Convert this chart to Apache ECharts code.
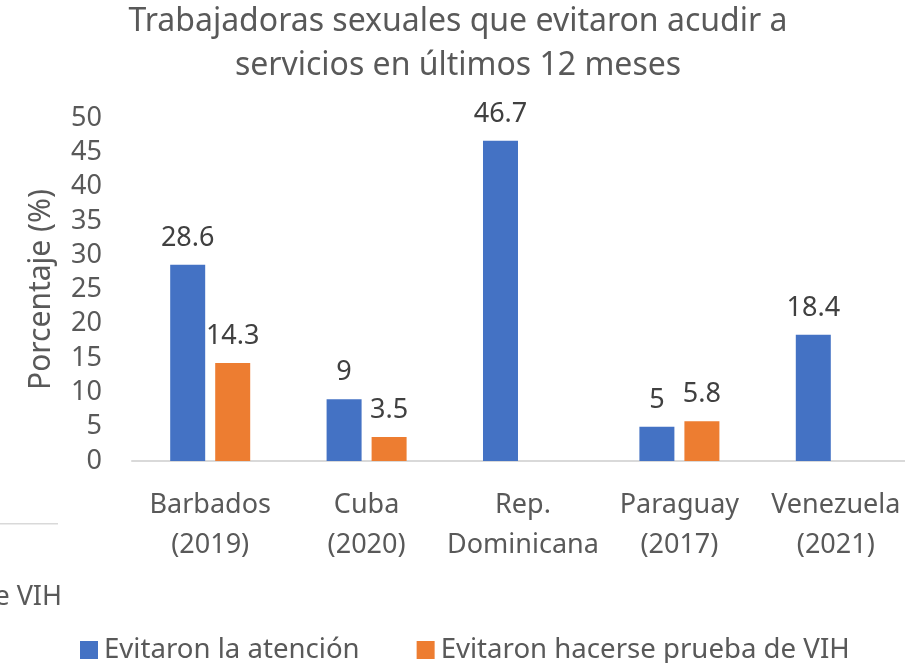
<!DOCTYPE html>
<html>
<head>
<meta charset="utf-8">
<script src="https://cdn.jsdelivr.net/npm/echarts@6/dist/echarts.min.js"></script>
<style>
  html, body { margin: 0; padding: 0; background: #fff; }
  #chart { width: 905px; height: 663px; }
</style>
</head>
<body>
<div id="chart"></div>
<script>
// Categories (country and survey year) and the two series, in percent
const categories = ['Barbados\n(2019)', 'Cuba\n(2020)', 'Rep.\nDominicana', 'Paraguay\n(2017)', 'Venezuela\n(2021)'];
const evitaronAtencion = [28.6, 9, 46.7, 5, 18.4];
const evitaronPrueba = [14.3, 3.5, null, 5.8, null];
const seriesNames = ['Evitaron la atención', 'Evitaron hacerse prueba de VIH'];
const yTicks = { min: 0, max: 50, interval: 5 };
const chartTitle = 'Trabajadoras sexuales que evitaron acudir a\nservicios en últimos 12 meses';

const FONT = '"Noto Sans", sans-serif';
const GREY = '#595959';

const chart = echarts.init(document.getElementById('chart'), null, { renderer: 'canvas' });

chart.setOption({
  animation: false,
  backgroundColor: '#ffffff',
  legend: {
    bottom: -6,
    left: 75,
    itemWidth: 18,
    itemHeight: 18,
    itemGap: 57,
    icon: 'rect',
    textStyle: { fontFamily: FONT, fontSize: 27.6, color: GREY, padding: [0, 0, 0, 1] },
    data: seriesNames
  },
  grid: { left: 132, top: 118, right: -9, bottom: 202, outerBoundsMode: 'none', containLabel: false },
  xAxis: {
    type: 'category',
    data: categories,
    axisLine: { lineStyle: { color: '#D9D9D9', width: 2 } },
    axisTick: { show: false },
    axisLabel: { fontFamily: FONT, fontSize: 27, color: GREY, lineHeight: 40, margin: 24, interval: 0 }
  },
  yAxis: {
    type: 'value',
    min: yTicks.min,
    max: yTicks.max,
    interval: yTicks.interval,
    name: 'Porcentaje (%)',
    nameLocation: 'middle',
    nameGap: 76,
    nameTextStyle: { fontFamily: FONT, fontSize: 30, color: GREY },
    axisLine: { show: false },
    axisTick: { show: false },
    splitLine: { show: false },
    axisLabel: { fontFamily: FONT, fontSize: 27, color: GREY, margin: 30 }
  },
  series: [
    {
      name: seriesNames[0],
      type: 'bar',
      data: evitaronAtencion,
      barWidth: 35,
      barGap: '28.6%',
      itemStyle: { color: '#4472C4' },
      label: { show: true, position: 'top', distance: 13, fontFamily: FONT, fontSize: 27, color: '#404040' }
    },
    {
      name: seriesNames[1],
      type: 'bar',
      data: evitaronPrueba,
      barWidth: 35,
      barGap: '28.6%',
      itemStyle: { color: '#ED7D31' },
      label: { show: true, position: 'top', distance: 13, fontFamily: FONT, fontSize: 27, color: '#404040' }
    }
  ],
  graphic: [
    // two-line title centred over the plot
    { type: 'text', x: 458, y: 44, style: { text: chartTitle, font: '32px "Noto Sans", sans-serif', fill: GREY, align: 'center', verticalAlign: 'middle', lineHeight: 44 } },
    // edge of a neighbouring panel at the lower left
    { type: 'rect', shape: { x: 0, y: 523, width: 58, height: 1.5 }, style: { fill: '#D9D9D9' } },
    { type: 'text', x: 62, y: 597, style: { text: 'e VIH', font: '27px "Noto Sans", sans-serif', fill: GREY, align: 'right', verticalAlign: 'middle' } }
  ]
});
</script>
</body>
</html>
